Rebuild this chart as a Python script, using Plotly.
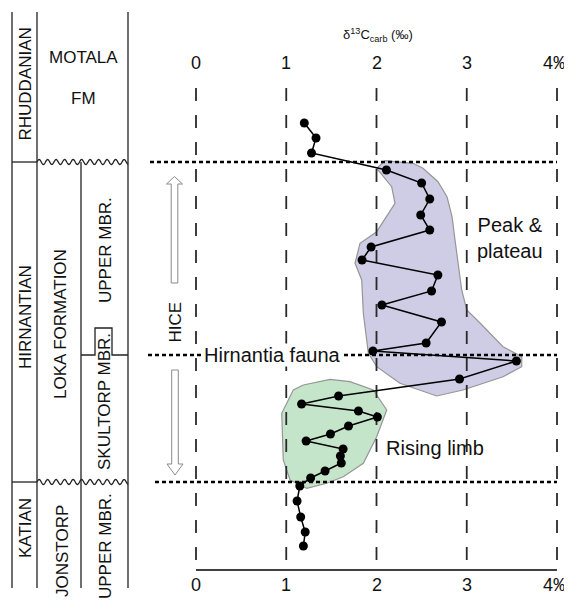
import numpy as np
import plotly.graph_objects as go

# ---------------- data ----------------
# delta13C carb values (per mil) and stratigraphic height (arbitrary units, 0 = base of plot)
d13c = [1.20, 1.33, 1.28, 2.11, 2.50, 2.59, 2.49, 2.59, 1.94, 1.84, 2.68, 2.61,
        2.06, 2.72, 2.55, 1.96, 3.55, 2.92, 1.58, 1.17, 1.80, 2.01, 1.69, 1.49,
        1.22, 1.63, 1.60, 1.61, 1.43, 1.27, 1.15, 1.12, 1.16, 1.21, 1.19]
height = [44.7, 43.2, 41.7, 40.0, 38.7, 37.1, 35.5, 34.0, 32.3, 31.0, 29.5, 27.9,
          26.5, 24.8, 22.7, 21.9, 20.9, 19.1, 17.4, 16.6, 15.9, 15.3, 14.4, 13.6,
          12.9, 12.1, 11.4, 10.7, 9.9, 9.2, 8.4, 6.9, 5.3, 3.8, 2.4]

tick_values = [0, 1, 2, 3, 4]
tick_labels = ["0", "1", "2", "3", "4‰"]

# boundaries: Rhuddanian/Hirnantian, Hirnantia fauna, Hirnantian/Katian
boundaries = [40.8, 21.5, 8.8]

# "Peak & plateau" field
peak_x = [2.094, 2.404, 2.515, 2.681, 2.781, 2.837, 2.870, 2.903, 2.944, 3.000,
          3.147, 3.402, 3.609, 3.609, 3.402, 2.958, 2.667, 2.260, 2.002, 1.909,
          1.854, 1.836, 1.762, 1.817, 2.002, 2.205, 2.168, 2.002]
peak_y = [40.93, 40.67, 40.17, 38.83, 37.33, 35.33, 33.0, 30.67, 28.0, 26.0,
          24.7, 22.33, 21.33, 20.33, 19.33, 18.0, 17.4, 18.67, 20.33, 21.7,
          25.7, 29.0, 30.67, 32.67, 33.83, 36.67, 38.33, 40.17]
# "Rising limb" field
rise_x = [1.189, 1.485, 1.706, 1.965, 2.039, 2.113, 2.002, 1.854, 1.632, 1.448,
          1.227, 1.042, 0.967, 0.950, 1.078]
rise_y = [18.5, 19.07, 18.83, 18.0, 17.0, 16.0, 13.33, 10.67, 9.33, 8.67,
          8.17, 9.0, 11.0, 15.67, 18.0]

# page has an 8px body margin: figure covers window pixels 8..572 / 8..603
OFF = 8
WIN_W, WIN_H = 572, 603
W, H = WIN_W - OFF, WIN_H - OFF
X0PX, XSCALE = 196.0, 90.25      # window pixel of value 0, pixels per per-mil
Y0PX, YSCALE = 570.0, 10.0       # window pixel of height 0, pixels per height unit

def hx(py):      # window pixel row -> height units
    return (Y0PX - py) / YSCALE

def vx(p):       # window pixel column -> value units
    return (p - X0PX) / XSCALE

def px(p):       # window pixel column -> paper
    return (p - OFF) / W

FONT = "Liberation Sans, Arial, sans-serif"

fig = go.Figure()

# fields
fig.add_trace(go.Scatter(x=peak_x + [peak_x[0]], y=peak_y + [peak_y[0]], mode="lines",
                         fill="toself", fillcolor="rgb(207,204,230)",
                         line=dict(color="rgb(150,150,150)", width=1.2), hoverinfo="skip"))
fig.add_trace(go.Scatter(x=rise_x + [rise_x[0]], y=rise_y + [rise_y[0]], mode="lines",
                         fill="toself", fillcolor="rgb(197,229,202)",
                         line=dict(color="rgb(150,150,150)", width=1.2), hoverinfo="skip"))

# dashed vertical grid lines
for v in tick_values:
    fig.add_trace(go.Scatter(x=[v, v], y=[hx(88), hx(560)], mode="lines",
                             line=dict(color="#2a2a2a", width=1.8, dash="13px,14px"),
                             hoverinfo="skip"))

# dotted boundaries
left_ends = [vx(150), vx(148), vx(155)]
for b, le in zip(boundaries, left_ends):
    fig.add_trace(go.Scatter(x=[le, 4.0], y=[b, b], mode="lines",
                             line=dict(color="black", width=2.6, dash="4px,3px"),
                             hoverinfo="skip"))

# bottom axis line
fig.add_trace(go.Scatter(x=[0, 4], y=[0, 0], mode="lines",
                         line=dict(color="black", width=1.5), hoverinfo="skip"))

# data curve
fig.add_trace(go.Scatter(x=d13c, y=height, mode="lines+markers",
                         line=dict(color="black", width=1.5),
                         marker=dict(color="black", size=9)))

annotations = []
# tick labels top and bottom
for v, t in zip(tick_values, tick_labels):
    for yy in (hx(63), hx(585)):
        annotations.append(dict(x=v, y=yy, text=t, showarrow=False,
                                font=dict(size=18, color="#111", family=FONT),
                                xanchor="center", yanchor="middle"))
annotations.append(dict(x=vx(378), y=hx(35), text="δ<sup>13</sup>C<sub>carb</sub> (‰)",
                        showarrow=False, font=dict(size=13, color="#111", family=FONT)))
annotations.append(dict(x=vx(510), y=hx(237.5), text="Peak &<br>plateau", showarrow=False,
                        font=dict(size=20, color="#111", family=FONT)))
annotations.append(dict(x=vx(435), y=hx(448), text="Rising limb", showarrow=False,
                        font=dict(size=20, color="#111", family=FONT)))
annotations.append(dict(x=vx(272), y=boundaries[1], text="Hirnantia fauna",
                        showarrow=False, bgcolor="white", borderpad=0,
                        font=dict(size=20, color="#111", family=FONT)))

# column labels (window pixel x, window pixel y)
col_labels = [
    ("RHUDDANIAN", 25, 84.5, -90), ("MOTALA", 83, 57, 0), ("FM", 83, 98, 0),
    ("HIRNANTIAN", 25, 317, -90), ("LOKA FORMATION", 60, 324, -90),
    ("UPPER MBR.", 105, 250, -90), ("SKULTORP MBR.", 104, 402, -90),
    ("KATIAN", 25, 528, -90), ("JONSTORP", 62, 551, -90), ("UPPER MBR.", 105, 546, -90),
    ("HICE", 174.5, 322, -90),
]
for t, xp, yp, ang in col_labels:
    annotations.append(dict(x=px(xp), xref="paper", y=hx(yp), yref="y", text=t,
                            showarrow=False, textangle=ang,
                            font=dict(size=17, color="#111", family=FONT),
                            xanchor="center", yanchor="middle"))

shapes = []
LINE = dict(color="#222", width=1.3)
# column verticals
for xp, top in [(12, hx(12)), (37, hx(12)), (128, hx(12)), (81, boundaries[0])]:
    shapes.append(dict(type="line", xref="paper", yref="y", x0=px(xp), x1=px(xp),
                       y0=top, y1=hx(588), line=LINE))
# horizontal pieces in stage column
for b in (boundaries[0], boundaries[2]):
    shapes.append(dict(type="line", xref="paper", yref="y", x0=px(12), x1=px(37),
                       y0=b, y1=b, line=LINE))
    # wavy unconformity
    xs = np.linspace(37, 128, 200)
    ys = b + 0.25 * np.sin((xs - 37) / 8.5 * 2 * np.pi)
    path = "M " + " L ".join(f"{px(a):.5f},{c:.4f}" for a, c in zip(xs, ys))
    shapes.append(dict(type="path", xref="paper", yref="y", path=path, line=LINE))
# member boundary with notch
mb = boundaries[1]
notch = hx(328)
pts = [(81, mb), (95, mb), (95, notch), (112, notch), (112, mb), (128, mb)]
shapes.append(dict(type="path", xref="paper", yref="y",
                   path="M " + " L ".join(f"{px(a):.5f},{c:.4f}" for a, c in pts), line=LINE))

# hollow arrows
def arrow(cx, tip, base, tail):
    hw, sw = 8.0, 3.3
    P = [(cx, tip), (cx + hw, base), (cx + sw, base), (cx + sw, tail),
         (cx - sw, tail), (cx - sw, base), (cx - hw, base)]
    return dict(type="path", xref="paper", yref="y",
                path="M " + " L ".join(f"{px(a):.5f},{hx(c):.4f}" for a, c in P) + " Z",
                line=dict(color="#8a8a8a", width=1), fillcolor="white")
shapes.append(arrow(174.5, 176.5, 184, 283))
shapes.append(arrow(175, 475, 464, 370))

fig.update_layout(
    width=W, height=H, margin=dict(l=0, r=0, t=0, b=0),
    paper_bgcolor="white", plot_bgcolor="white", showlegend=False,
    xaxis=dict(range=[vx(OFF), vx(WIN_W)], visible=False, fixedrange=True),
    yaxis=dict(range=[hx(WIN_H), hx(OFF)], visible=False, fixedrange=True),
    annotations=annotations, shapes=shapes,
)

fig.write_html("out.html")
